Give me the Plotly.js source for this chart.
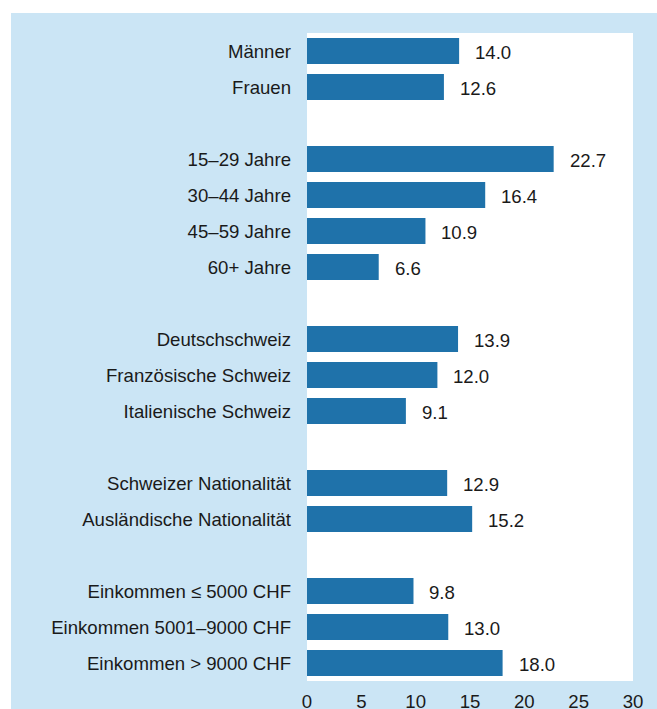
<!DOCTYPE html>
<html>
<head>
<meta charset="utf-8">
<script src="https://cdn.plot.ly/plotly-3.0.1.min.js"></script>
<style>html,body{margin:0;padding:0;background:#fff;}#chart{width:657px;height:709px;}</style>
</head>
<body>
<div id="chart"></div>
<script>
// Data
const categories = [
  "Männer", "Frauen",
  "15–29 Jahre", "30–44 Jahre", "45–59 Jahre", "60+ Jahre",
  "Deutschschweiz", "Französische Schweiz", "Italienische Schweiz",
  "Schweizer Nationalität", "Ausländische Nationalität",
  "Einkommen ≤ 5000 CHF", "Einkommen 5001–9000 CHF", "Einkommen > 9000 CHF"
];
const values = [14.0, 12.6, 22.7, 16.4, 10.9, 6.6, 13.9, 12.0, 9.1, 12.9, 15.2, 9.8, 13.0, 18.0];
const groupSizes = [2, 4, 3, 2, 3];
const xTicks = [0, 5, 10, 15, 20, 25, 30];

// Row slots: one empty row between groups
const slots = [];
let s = 0;
groupSizes.forEach((n) => {
  for (let i = 0; i < n; i++) slots.push(s++);
  s++;
});
const lastSlot = slots[slots.length - 1];

const font = {family: "Liberation Sans, Arial, Helvetica, sans-serif", size: 18.6, color: "#1a1a1a"};

const trace = {
  type: "bar",
  orientation: "h",
  x: values,
  y: slots,
  marker: {color: "#1f72aa", line: {width: 0}},
  hoverinfo: "skip"
};

const annotations = values.map((v, i) => ({
  x: v, y: slots[i], xref: "x", yref: "y",
  text: v.toFixed(1), showarrow: false,
  xanchor: "left", yanchor: "middle", xshift: 14, yshift: -1,
  font: font
}));

const layout = {
  width: 657, height: 709,
  margin: {l: 307, r: 24, t: 33, b: 28, pad: 0},
  paper_bgcolor: "#cbe5f5",
  plot_bgcolor: "#ffffff",
  font: font,
  showlegend: false,
  bargap: 0.28,
  xaxis: {
    range: [0, 30], tickvals: xTicks, ticktext: xTicks.map(String),
    showgrid: false, zeroline: false, showline: false, ticks: "",
    ticklabelstandoff: 7, fixedrange: true, tickfont: font
  },
  yaxis: {
    range: [lastSlot + 0.5, -0.5], tickvals: slots, ticktext: categories,
    showgrid: false, zeroline: false, showline: false, ticks: "",
    ticklabelstandoff: 15, fixedrange: true, tickfont: font
  },
  shapes: [
    {type: "rect", xref: "paper", yref: "paper", x0: -1.2, x1: -0.908, y0: -0.1, y1: 1.2,
     fillcolor: "#ffffff", line: {width: 0}, layer: "above"},
    {type: "rect", xref: "paper", yref: "paper", x0: -1.2, x1: 1.2, y0: 1.031, y1: 1.2,
     fillcolor: "#ffffff", line: {width: 0}, layer: "above"}
  ],
  annotations: annotations
};

Plotly.newPlot("chart", [trace], layout, {displayModeBar: false, staticPlot: true});
</script>
</body>
</html>
